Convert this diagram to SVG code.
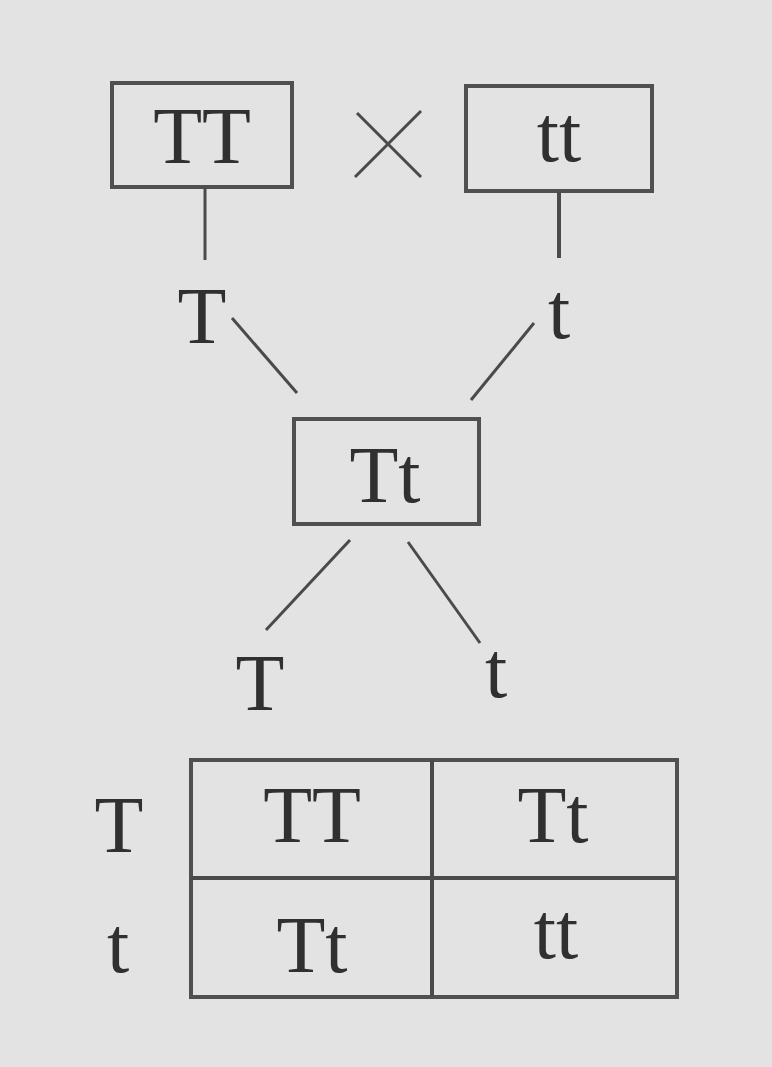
<svg xmlns="http://www.w3.org/2000/svg" width="772" height="1067" viewBox="0 0 772 1067">
<style>
  .box { fill: none; stroke: #505050; stroke-width: 4; }
  .ln { stroke: #4a4a4a; stroke-width: 3; stroke-linecap: butt; fill: none; }
  .lbl { font-family: "Liberation Serif", "Times New Roman", serif; font-size: 80px; fill: #303030; text-anchor: middle; }
</style>
<rect x="0" y="0" width="772" height="1067" fill="#e3e3e3"/>

<g id="parent-TT">
  <rect class="box" x="112" y="83" width="180" height="104"/>
  <text class="lbl" x="202" y="163">TT</text>
</g>
<g id="cross">
  <line class="ln" x1="355" y1="177" x2="421" y2="111"/>
  <line class="ln" x1="357" y1="113" x2="421" y2="177"/>
</g>
<g id="parent-tt">
  <rect class="box" x="466" y="86" width="186" height="105"/>
  <text class="lbl" x="559" y="161">tt</text>
</g>
<g id="gamete-T1">
  <text class="lbl" x="202" y="343">T</text>
</g>
<g id="gamete-t1">
  <text class="lbl" x="559" y="338">t</text>
</g>
<g id="F1-Tt">
  <rect class="box" x="294" y="419" width="185" height="105"/>
  <text class="lbl" x="385" y="502">Tt</text>
</g>
<g id="gamete-T2">
  <text class="lbl" x="260" y="710">T</text>
</g>
<g id="gamete-t2">
  <text class="lbl" x="496" y="697">t</text>
</g>

<g id="punnett">
  <rect class="box" x="191" y="760" width="486" height="237"/>
  <line class="ln" x1="432" y1="760" x2="432" y2="997" style="stroke-width:4"/>
  <line class="ln" x1="191" y1="878" x2="677" y2="878" style="stroke-width:4"/>
  <text class="lbl" x="119" y="852">T</text>
  <text class="lbl" x="118" y="972">t</text>
  <text class="lbl" x="312" y="842">TT</text>
  <text class="lbl" x="553" y="842">Tt</text>
  <text class="lbl" x="312" y="972">Tt</text>
  <text class="lbl" x="556" y="958">tt</text>
</g>

<g id="connectors">
  <line class="ln" x1="205" y1="188" x2="205" y2="260"/>
  <line class="ln" x1="559" y1="192" x2="559" y2="258" style="stroke-width:4"/>
  <line class="ln" x1="232" y1="318" x2="297" y2="393"/>
  <line class="ln" x1="534" y1="323" x2="471" y2="400"/>
  <line class="ln" x1="350" y1="540" x2="266" y2="630"/>
  <line class="ln" x1="408" y1="542" x2="480" y2="643"/>
</g>
</svg>
